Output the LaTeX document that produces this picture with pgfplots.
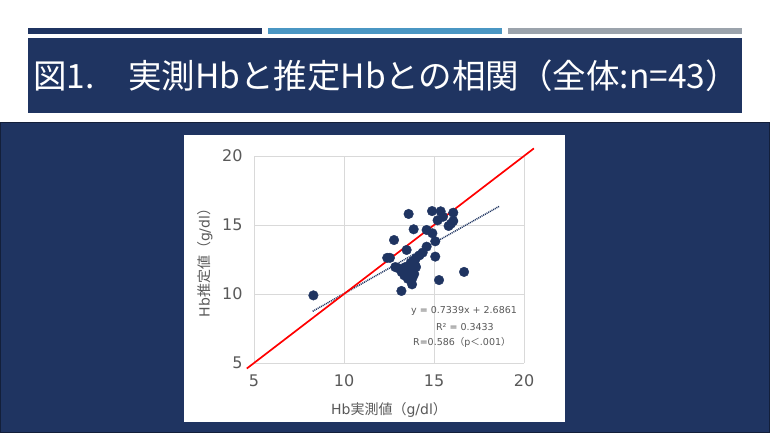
\documentclass[border=0pt]{standalone}
\usepackage{fontspec}
\setmainfont{DejaVu Sans}
\newfontfamily\cjk{Noto Sans CJK JP}
\usepackage{pgfplots}
\pgfplotsset{compat=1.18}

\definecolor{navy}{RGB}{31,52,97}
\definecolor{steel}{RGB}{74,150,195}
\definecolor{slate}{RGB}{155,163,172}
\definecolor{ticktxt}{RGB}{89,89,89}
\definecolor{gridc}{RGB}{217,217,217}

\begin{document}
\begin{tikzpicture}
\path[use as bounding box] (0pt,0pt) rectangle (770pt,433pt);
\fill[white] (0pt,0pt) rectangle (770pt,433pt);
% header bars and title box
\fill[navy]  (28pt,398.5pt) rectangle (262pt,404.5pt);
\fill[steel] (268pt,398.5pt) rectangle (502pt,404.5pt);
\fill[slate] (508pt,398.5pt) rectangle (742pt,404.5pt);
\fill[navy]  (28pt,320pt) rectangle (742pt,394.5pt);
\node[anchor=west, text=white, inner sep=0pt] at (33pt,357pt)
  {\cjk\fontsize{33.5}{38}\selectfont 図1.　実測Hbと推定Hbとの相関（全体:n=43）};
% lower panel and chart area
\fill[navy] (0pt,0pt) rectangle (770pt,311pt);
\draw[black!40!navy, line width=1pt] (0.5pt,0.5pt) rectangle (769.5pt,310.5pt);
\fill[white] (184pt,11pt) rectangle (565pt,298pt);

\begin{axis}[
  at={(254pt,70pt)}, anchor=south west,
  scale only axis, width=270pt, height=207pt,
  xmin=5, xmax=20, ymin=5, ymax=20,
  xtick={5,10,15,20}, ytick={5,10,15,20},
  grid=major, grid style={gridc, line width=0.8pt},
  axis line style={draw=none},
  major tick length=0pt,
  /pgf/number format/assume math mode=true,
  tick label style={font=\fontsize{16}{19}\selectfont, text=ticktxt},
  xticklabel style={yshift=-8pt},
  yticklabel style={xshift=-8pt},
  xlabel={Hb{\cjk 実測値（}g/dl{\cjk ）}},
  ylabel={Hb{\cjk 推定値（}g/dl{\cjk ）}},
  label style={font=\fontsize{14}{17}\selectfont, text=ticktxt},
  xlabel style={at={(axis description cs:0.5,0)}, anchor=center, yshift=-47pt},
  ylabel style={at={(axis description cs:0,0.5)}, anchor=center, yshift=49pt},
  clip=false,
]
% measured vs estimated Hb
\addplot[only marks, mark=*, mark size=4.8pt, mark options={fill=navy, draw=navy}]
coordinates {
  (8.30,9.90) (13.59,15.80) (14.89,16.01) (15.37,15.99) (16.07,15.89)
  (15.20,15.34) (16.07,15.29) (15.81,14.93) (15.95,15.10) (13.87,14.69)
  (14.59,14.64) (14.91,14.40) (12.78,13.91) (15.07,13.82) (13.48,13.19)
  (14.59,13.43) (14.37,13.00) (14.19,12.80) (12.40,12.62) (12.55,12.62)
  (15.07,12.71) (14.00,12.60) (13.85,12.40) (13.70,12.25) (13.95,12.10)
  (13.60,12.00) (13.40,11.95) (12.85,11.95) (13.05,11.85) (13.20,11.60)
  (13.50,11.70) (13.75,11.80) (14.00,11.95) (13.35,11.35) (13.60,11.30)
  (13.90,11.45) (13.55,11.10) (13.80,11.15) (16.67,11.60) (15.28,11.01)
  (13.78,10.70) (13.19,10.22) (15.50,15.60)
};
% linear trendline
\addplot[navy, line width=1.5pt, dash pattern=on 1pt off 0.9pt] coordinates {
  (8.26,8.748) (18.63,16.359)
};
% identity line
\addplot[red, line width=1.7pt] coordinates {(4.6,4.6) (20.55,20.55)};

\node[text=ticktxt, font=\fontsize{9.5}{11}\selectfont] at (axis cs:16.67,8.76) {y = 0.7339x + 2.6861};
\node[text=ticktxt, font=\fontsize{9.5}{11}\selectfont] at (axis cs:16.72,7.61) {R² = 0.3433};
\node[text=ticktxt, font=\fontsize{9.5}{11}\selectfont] at (axis cs:16.55,6.47) {R=0.586{\cjk （}p{\cjk ＜}.001{\cjk ）}};
\end{axis}
\end{tikzpicture}
\end{document}
